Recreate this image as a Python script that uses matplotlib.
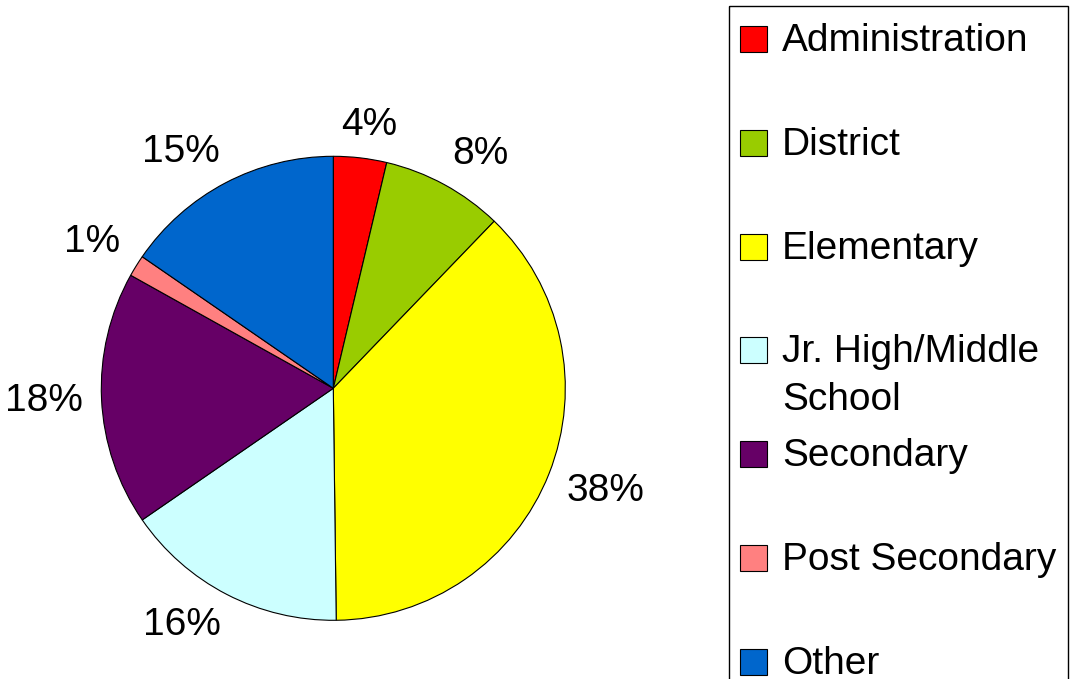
import matplotlib
matplotlib.use('Agg')
import numpy as np
import matplotlib.pyplot as plt
from matplotlib.patches import Rectangle

categories = ['Administration', 'District', 'Elementary', 'Jr. High/Middle\nSchool',
              'Secondary', 'Post Secondary', 'Other']
shares = [3.7, 8.5, 37.6, 15.6, 17.7, 1.5, 15.4]
pct_labels = ['4%', '8%', '38%', '16%', '18%', '1%', '15%']
colors = ['#FF0000', '#99CC00', '#FFFF00', '#CCFFFF', '#660066', '#FF8080', '#0066CC']

plt.rcParams['font.family'] = ['Liberation Sans', 'DejaVu Sans']

W, H = 1073, 679
fig = plt.figure(figsize=(W / 100, H / 100), dpi=100)

# legend drawn by hand in pixel coords, one entry every 104 px
lax = fig.add_axes([0, 0, 1, 1])
lax.set_xlim(0, W)
lax.set_ylim(H, 0)
lax.axis('off')
lax.add_patch(Rectangle((729, 6), 339, 700, fill=False, edgecolor='black', lw=1.0))
for i, (name, col) in enumerate(zip(categories, colors)):
    base = 51 + i * 103.8
    lax.add_patch(Rectangle((740, base - 25), 27, 26, facecolor=col, edgecolor='black', lw=0.8))
    for k, line in enumerate(name.split('\n')):
        lax.text(782, base + k * 48, line, fontsize=28, va='baseline', ha='left')

# pie
cx, cy, r = 333.3, 388.3, 232
ax = fig.add_axes([(cx - r) / W, (H - cy - r) / H, 2 * r / W, 2 * r / H])
wedges, _ = ax.pie(shares, colors=colors, startangle=90, counterclock=False,
                   wedgeprops=dict(edgecolor='black', linewidth=0.8))
ax.set_xlim(-1, 1)
ax.set_ylim(-1, 1)
ax.set_aspect('equal')

# percent labels: anchor the side of the text box that faces the pie
texts = [ax.text(0, 0, s, fontsize=28, ha='center', va='center') for s in pct_labels]
fig.canvas.draw()
rend = fig.canvas.get_renderer()
per_px = 1.0 / r
for w, t in zip(wedges, texts):
    ang = np.deg2rad((w.theta1 + w.theta2) / 2)
    ux, uy = np.cos(ang), np.sin(ang)
    bb = t.get_window_extent(rend)
    dx = bb.width / 2 * np.clip(2 * ux, -1, 1)
    dy = bb.height / 2 * np.clip(2 * uy, -1, 1) * 0.8
    t.set_position((1.08 * ux + dx * per_px, 1.08 * uy + dy * per_px))

fig.savefig('out.png', dpi=100)
